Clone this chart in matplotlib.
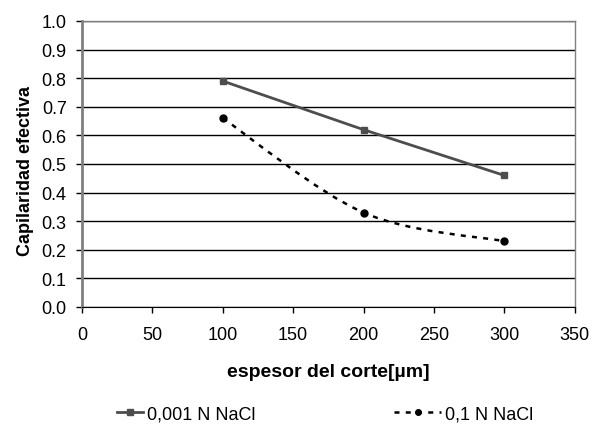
import matplotlib
matplotlib.use("Agg")
from matplotlib import pyplot as plt
from matplotlib.path import Path
from matplotlib.patches import PathPatch
import numpy as np

plt.rcParams['font.family'] = ['Liberation Sans', 'DejaVu Sans']

espesor = [100, 200, 300]
cap_001 = [0.79, 0.62, 0.46]
cap_01 = [0.66, 0.33, 0.23]
label_001 = "0,001 N NaCl"
label_01 = "0,1 N NaCl"
xticks = [0, 50, 100, 150, 200, 250, 300, 350]
yticks = [0.0, 0.1, 0.2, 0.3, 0.4, 0.5, 0.6, 0.7, 0.8, 0.9, 1.0]


def smooth_path(x, y):
    # excel-like smoothed line: cubic bezier through the points
    p = np.column_stack([x, y]).astype(float)
    ext = np.vstack([p[0], p, p[-1]])
    verts = [p[0]]
    codes = [Path.MOVETO]
    for i in range(len(p) - 1):
        c1 = ext[i + 1] + (ext[i + 2] - ext[i]) / 6
        c2 = ext[i + 2] - (ext[i + 3] - ext[i + 1]) / 6
        verts += [c1, c2, p[i + 1]]
        codes += [Path.CURVE4] * 3
    return Path(verts, codes)


dots = (0, (2, 2.5))

fig = plt.figure(figsize=(6.05, 4.27), dpi=100)
ax = fig.add_axes([0.1355, 0.2787, 0.8145, 0.6698])

ax.set_xlim(0, 350)
ax.set_ylim(0, 1.0)
ax.set_xticks(xticks)
ax.set_yticks(yticks)
ax.set_yticklabels(["%.1f" % v for v in yticks])
ax.yaxis.grid(True, color='black', linewidth=1)
ax.set_axisbelow(True)

for s in ['top', 'right']:
    ax.spines[s].set_color('#808080')
    ax.spines[s].set_linewidth(1)
ax.spines['left'].set_color('#808080')
ax.spines['left'].set_linewidth(2)
ax.spines['bottom'].set_color('black')
ax.tick_params(direction='out', length=4, width=1, color='black', labelsize=13)
ax.tick_params(axis='y', pad=7)
ax.tick_params(axis='x', pad=10)

ax.plot(espesor, cap_001, color='#4d4d4d', linewidth=2, marker='s', markersize=5,
        label=label_001)

patch = PathPatch(smooth_path(espesor, cap_01), facecolor='none', edgecolor='black',
                  linewidth=1.8, linestyle=dots)
ax.add_patch(patch)
ax.plot(espesor, cap_01, color='black', linestyle='none',
        marker='o', markersize=5, label=label_01)

ax.set_xlabel("espesor del corte[µm]", fontsize=14, fontweight='bold', labelpad=14)
ax.set_ylabel("Capilaridad efectiva", fontsize=13, fontweight='bold')
ax.yaxis.set_label_coords(-0.098, 0.48)

h1 = plt.Line2D([], [], color='#4d4d4d', linewidth=2, marker='s', markersize=4)
h2 = plt.Line2D([], [], color='black', linewidth=1.8, linestyle=dots,
                marker='o', markersize=4)
fig.legend([h1], [label_001], loc='center left', bbox_to_anchor=(0.193, 0.028),
           frameon=False, fontsize=13, handlelength=1.45, handletextpad=0.2,
           borderpad=0, borderaxespad=0)
fig.legend([h2], [label_01], loc='center left', bbox_to_anchor=(0.652, 0.028),
           frameon=False, fontsize=13, handlelength=2.6, handletextpad=0.2,
           borderpad=0, borderaxespad=0)

fig.savefig("out.png", dpi=100)
